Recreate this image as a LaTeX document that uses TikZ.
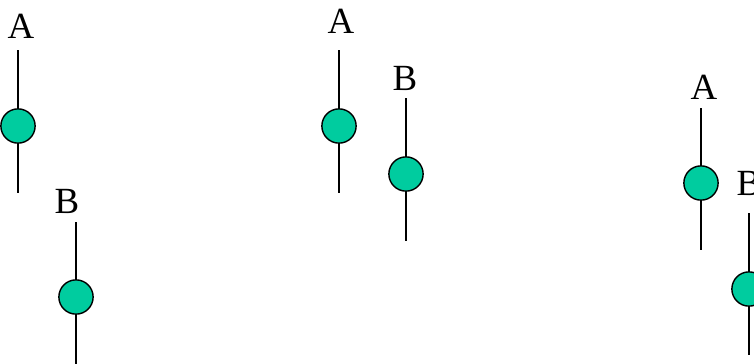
\documentclass[tikz,border=0pt]{standalone}
\usepackage{fontspec}
\setmainfont{Liberation Serif}
\usepackage{xcolor}
\definecolor{dotgreen}{HTML}{00CC9F}
\tikzset{
  dot/.style={circle, draw=black, fill=dotgreen, line width=0.8pt,
    minimum size=19.5, inner sep=0pt},
  stem/.style={line width=0.9pt},
  lbl/.style={anchor=base, inner sep=0pt, font=\fontsize{21}{25}\selectfont}
}

\begin{document}
\begin{tikzpicture}[x=0.02cm, y=-0.02cm]
  \useasboundingbox (0,0) rectangle (754,363);
  \clip (0,0) rectangle (754,363);
  % A left of B, far apart
  \node[lbl] (labA1) at (21,38) {A};
  \coordinate (topA1) at (18,50);
  \coordinate (botA1) at (18,193);
  \draw[stem] (topA1) -- (botA1);
  \node[dot] (dotA1) at (18,126) {};
  \node[lbl] (labB1) at (67,213) {B};
  \coordinate (topB1) at (76,222);
  \coordinate (botB1) at (76,365);
  \draw[stem] (topB1) -- (botB1);
  \node[dot] (dotB1) at (76,297) {};
  % A and B close together
  \node[lbl] (labA2) at (341,33) {A};
  \coordinate (topA2) at (339,50);
  \coordinate (botA2) at (339,193);
  \draw[stem] (topA2) -- (botA2);
  \node[dot] (dotA2) at (339,126) {};
  \node[lbl] (labB2) at (405,90) {B};
  \coordinate (topB2) at (406,98);
  \coordinate (botB2) at (406,241);
  \draw[stem] (topB2) -- (botB2);
  \node[dot] (dotB2) at (406,174) {};
  % B cut at the right edge
  \node[lbl] (labA3) at (704,99) {A};
  \coordinate (topA3) at (701,108);
  \coordinate (botA3) at (701,250);
  \draw[stem] (topA3) -- (botA3);
  \node[dot] (dotA3) at (701,183) {};
  \node[lbl] (labB3) at (749,195) {B};
  \coordinate (topB3) at (749,213);
  \coordinate (botB3) at (749,355);
  \draw[stem] (topB3) -- (botB3);
  \node[dot] (dotB3) at (749,289) {};
\end{tikzpicture}
\end{document}
